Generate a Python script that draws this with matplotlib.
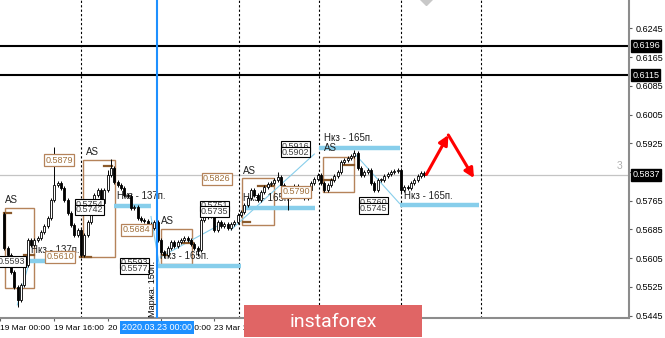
import matplotlib.pyplot as plt
import matplotlib.transforms as mtransforms
from matplotlib.patches import Rectangle

plt.rcParams["font.family"] = ["Liberation Sans", "DejaVu Sans"]

# H1 candles, bar 0 = 19 Mar 01:00 (open of first bar, then closes)
first_open = 0.5728
closes = [
    0.5633, 0.5614, 0.5567, 0.5525, 0.5489, 0.5530, 0.5586, 0.5656, 0.5642, 0.5656,
    0.5661, 0.5678, 0.5695, 0.5717, 0.5767, 0.5809, 0.5814, 0.5800, 0.5767, 0.5731,
    0.5697, 0.5670, 0.5684, 0.5614, 0.5670, 0.5706, 0.5739, 0.5781, 0.5795, 0.5759,
    0.5795, 0.5837, 0.5856, 0.5817, 0.5809, 0.5800, 0.5781, 0.5778, 0.5745, 0.5748,
    0.5717, 0.5711, 0.5709, 0.5700, 0.5689, 0.5706, 0.5656, 0.5622, 0.5614, 0.5633,
    0.5650, 0.5639, 0.5650, 0.5656, 0.5661, 0.5656, 0.5645, 0.5633, 0.5628, 0.5711,
    0.5720, 0.5728, 0.5723, 0.5684, 0.5706, 0.5695, 0.5700, 0.5689, 0.5700, 0.5706,
    0.5725, 0.5734, 0.5753, 0.5773, 0.5795, 0.5781, 0.5767, 0.5789, 0.5803, 0.5812,
    0.5814, 0.5823, 0.5831, 0.5809, 0.5781, 0.5775, 0.5795, 0.5806, 0.5795, 0.5778,
    0.5773, 0.5795, 0.5814, 0.5826, 0.5837, 0.5814, 0.5795, 0.5809, 0.5823, 0.5834,
    0.5845, 0.5873, 0.5878, 0.5884, 0.5890, 0.5898, 0.5856, 0.5837, 0.5845, 0.5851,
    0.5814, 0.5795, 0.5823, 0.5823, 0.5834, 0.5839, 0.5845, 0.5848, 0.5851, 0.5795,
    0.5803, 0.5800, 0.5814, 0.5823, 0.5834, 0.5842, 0.5837,
]
spike_high = {15: 0.5915, 32: 0.5880, 72: 0.5760, 82: 0.5845, 105: 0.5906, 31: 0.5850}
spike_low = {4: 0.5469, 48: 0.5605, 85: 0.5739, 58: 0.5612, 119: 0.5785}
wick = 0.0005

price_ticks = [0.6245, 0.6165, 0.6085, 0.6005, 0.5925, 0.5845, 0.5765,
               0.5685, 0.5605, 0.5525, 0.5445]
time_ticks = [-1.3, 15, 31, 47, 63, 79, 95]
time_labels = ["19 Mar 00:00", "19 Mar 16:00", "20 Mar 08:00", "23 Mar 00:00",
               "23 Mar 16:00", "24 Mar 08:00", "25 Mar 00:00"]

black_levels = [0.6196, 0.6115]
last_price = 0.5837
separators = [23, 70.4, 94.5, 118.9, 143.0]
marker_bar = 45.9

# zones: (bar_from, bar_to, price_low, price_high)
boxes = [(0.06, 9.0, 0.5522, 0.5745), (23.6, 33.1, 0.5608, 0.5878),
         (47.1, 56.3, 0.5589, 0.5686), (71.2, 80.8, 0.5698, 0.5828),
         (95.7, 104.9, 0.5789, 0.5887)]
# blue target levels: (bar_from, bar_to, price)
levels = [(0.0, 17.9, 0.5597), (32.8, 44.1, 0.5750), (45.6, 70.9, 0.5583),
          (71.5, 93.3, 0.5745), (94.5, 118.6, 0.5912), (118.6, 142.4, 0.5753)]
marks = [(0.0, 2.0, 0.5731), (6.0, 9.0, 0.5614), (29.8, 32.2, 0.5862),
         (22.7, 26.0, 0.5608), (47.7, 49.5, 0.5614), (53.7, 56.6, 0.5647),
         (76.0, 80.5, 0.5806), (71.5, 73.6, 0.5706), (95.4, 99.0, 0.5823),
         (101.3, 104.9, 0.5865)]
trend_lines = [((3.9, 0.5475), (7.5, 0.5595)), ((46.8, 0.5608), (64.6, 0.5698)),
               ((68.0, 0.5684), (93.0, 0.5895)), ((104.9, 0.5898), (118.6, 0.5757)),
               ((44.0, 0.5721), (46.5, 0.5586))]
labels = [(0.3, 0.5767, "AS"), (24.5, 0.5901, "AS"), (33.7, 0.5778, "Нкз - 137п."),
          (8.1, 0.5628, "Нкз - 137п."), (47.1, 0.5709, "AS"), (46.8, 0.5611, "Нкз - 165п."),
          (71.5, 0.5848, "AS"), (71.5, 0.5773, "Нкз - 165п."), (95.9, 0.5940, "Нкз - 165п."),
          (95.9, 0.5912, "AS"), (120.0, 0.5778, "Нкз - 165п.")]
brown_tags = [(12.3, 0.5878, "0.5879"), (12.6, 0.5609, "0.5610"), (35.5, 0.5684, "0.5684"),
              (59.6, 0.5826, "0.5826"), (83.4, 0.5790, "0.5790")]
black_tags = [(21.5, 0.5754, "0.5754"), (21.5, 0.5740, "0.5742"), (34.9, 0.5592, "0.5593"),
              (34.9, 0.5576, "0.5577"), (59.0, 0.5751, "0.5751"), (59.0, 0.5735, "0.5735"),
              (83.1, 0.5916, "0.5916"), (83.1, 0.5900, "0.5902"), (106.7, 0.5760, "0.5760"),
              (106.7, 0.5744, "0.5745"), (-2.0, 0.5596, "0.5593")]
forecast = [(126.6, 0.5838), (133.2, 0.5948), (140.9, 0.5828)]

brown = "#b5835a"
sky = "#87ceeb"

fig = plt.figure(figsize=(6.65, 3.38), dpi=100)
ax = fig.add_axes([0, 20 / 338, 629 / 665, 318 / 338])
ax.set_xlim(0.06, 187.4)
ax.set_ylim(0.54386, 0.63238)

for s in ["top", "left"]:
    ax.spines[s].set_visible(False)
for s in ["right", "bottom"]:
    ax.spines[s].set_color("#8c8c8c")
    ax.spines[s].set_linewidth(1.5)

ax.yaxis.tick_right()
ax.set_yticks(price_ticks)
ax.set_yticklabels([f"{p:.4f}" for p in price_ticks])
ax.tick_params(axis="y", labelsize=6.5, length=2.5, pad=2, color="#606060")
ax.set_xticks(time_ticks)
ax.set_xticklabels(time_labels, ha="left")
ax.tick_params(axis="x", labelsize=6, length=2.5, pad=2.5, color="#606060")

# horizontal lines
for lv in black_levels:
    ax.axhline(lv, color="black", lw=1.5, zorder=2)
ax.axhline(last_price, color="#c4c4c4", lw=0.9, zorder=1)
for sx in separators:
    ax.axvline(sx, color="black", lw=0.8, ls=(0, (2, 2)), zorder=1)
ax.axvline(marker_bar, color="#1e90ff", lw=1.5, zorder=6)

for x0, x1, lo, hi in boxes:
    ax.add_patch(Rectangle((x0, lo), x1 - x0, hi - lo, fill=False,
                           edgecolor=brown, lw=1.0, zorder=2))
for x0, x1, p in levels:
    ax.plot([x0, x1], [p, p], color=sky, lw=3.2, solid_capstyle="butt", zorder=2)
for x0, x1, p in marks:
    ax.plot([x0, x1], [p, p], color="#8b5a2b", lw=1.6, zorder=3)
for (x0, y0), (x1, y1) in trend_lines:
    ax.plot([x0, x1], [y0, y1], color=sky, lw=0.8, zorder=2)
for x, y, t in labels:
    ax.text(x, y, t, fontsize=7, color="#202020", va="center", ha="left", zorder=2)

# candles
for i, c in enumerate(closes):
    o = closes[i - 1] if i else first_open
    hi = spike_high.get(i, max(o, c) + wick)
    lo = spike_low.get(i, min(o, c) - wick)
    ax.vlines(i, lo, hi, color="black", lw=0.7, zorder=4)
    ax.add_patch(Rectangle((i - 0.33, min(o, c)), 0.66, max(abs(c - o), 0.00015),
                           facecolor="white" if c >= o else "black",
                           edgecolor="black", lw=0.6, zorder=4))

for x, y, t in brown_tags:
    ax.text(x, y, t, fontsize=6.5, color="#a0703c", va="center", ha="left", zorder=5,
            bbox=dict(facecolor="white", edgecolor=brown, lw=0.9, pad=1.0))
for x, y, t in black_tags:
    ax.text(x, y, t, fontsize=6.5, color="#404040", va="center", ha="left", zorder=5,
            clip_on=True,
            bbox=dict(facecolor="white", edgecolor="black", lw=0.8, pad=0.5))

ax.text(44.4, 0.5519, "Маржа: 150п.", rotation=90, fontsize=6.5, ha="center",
        va="center", zorder=5)
ax.text(184.7, 0.5862, "3", fontsize=7.5, color="#b0b0b0", ha="center", va="center")
ax.plot(126.6, 0.6330, marker="D", ms=7, color="#c8c8c8", clip_on=True, zorder=3)

# forecast arrows
for (x0, y0), (x1, y1) in zip(forecast[:-1], forecast[1:]):
    ax.annotate("", xy=(x1, y1), xytext=(x0, y0), zorder=6,
                arrowprops=dict(arrowstyle="-|>", color="red", lw=2.2,
                                mutation_scale=14, shrinkA=0, shrinkB=0))

# price tags on the right axis
btr = mtransforms.blended_transform_factory(ax.transAxes, ax.transData)
for p in black_levels + [last_price]:
    ax.text(1.005, p, f"{p:.4f}", transform=btr, fontsize=6.5, color="white",
            va="center", ha="left", clip_on=False, zorder=7,
            bbox=dict(facecolor="black", edgecolor="black", pad=1.0))

# crosshair time tag
btx = mtransforms.blended_transform_factory(ax.transData, ax.transAxes)
ax.text(marker_bar, -0.029, "2020.03.23 00:00", transform=btx, fontsize=6.5,
        color="white", ha="center", va="center", clip_on=False, zorder=7,
        bbox=dict(facecolor="#1e90ff", edgecolor="none", pad=1.5))

# watermark banner
fig.add_artist(Rectangle((244 / 665, 1 / 338), 178 / 665, 32 / 338,
                         transform=fig.transFigure, facecolor="#e06565",
                         edgecolor="none", zorder=10))
fig.text(333 / 665, 1 - 322 / 338, "instaforex", color="white", fontsize=14,
         family="Roboto", ha="center", va="center", zorder=11)

fig.savefig("out.png", dpi=100)
